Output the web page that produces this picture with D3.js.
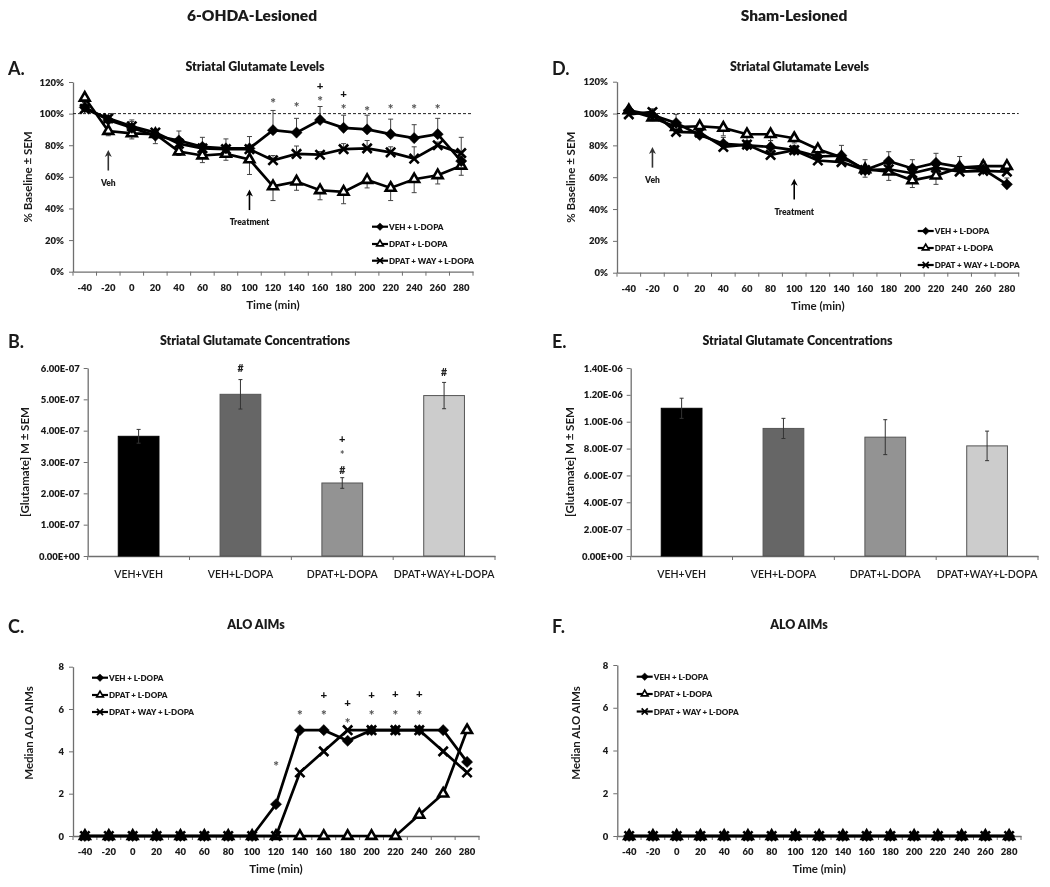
<!DOCTYPE html>
<html>
<head>
<meta charset="utf-8">
<script src="https://d3js.org/d3.v7.min.js"></script>
<style>
	html, body {margin:0; padding:0; background:#fff;}
	svg {filter:blur(0.35px);}
	text {font-family:Lato, "Open Sans", sans-serif; fill:#1a1a1a;}
</style>
</head>
<body>
<svg id="fig" width="1050" height="887"></svg>
<script>
// x categories shared by the time course panels
var times = [-40,-20,0,20,40,60,80,100,120,140,160,180,200,220,240,260,280];
var seriesNames = ['VEH + L-DOPA','DPAT + L-DOPA','DPAT + WAY + L-DOPA'];
var barNames = ['VEH+VEH','VEH+L-DOPA','DPAT+L-DOPA','DPAT+WAY+L-DOPA'];
var barColors = ['#000000','#666666','#939393','#cccccc'];

// A. glutamate levels, 6-OHDA
var aVeh = [104,96,91,86,83,79,78,78,89.5,88,96,91,90,87,84.5,87,70];
var aDpat = [110,89,87.5,87,76,73.5,74.5,71,54,57,51.5,50.5,58,53,58.5,61,67];
var aWay = [103,97,92,88,81,78,77.5,77.5,70.5,74.5,74,77.5,78,75.5,71.5,80,75];
var aVehErr = [3,2,5,3,6,6,6,7.5,12.5,9,8.5,8,9,9.5,8.5,10,3];
var aDpatErr = [3,3,3.5,6,2.5,4.5,4,9.5,9,5.5,6,7.5,5,8,8.5,5.5,6];
var aWayErr = [2,2,3,2,3,3,2,2,3,5,2,3.5,5,3.5,7.5,2,10];
var aStars = [[120,109],[140,106.5],[160,110],[180,105],[200,104],[220,105],[240,105],[260,105]];
var aPlus = [[160,117.5],[180,112.5]];

// D. glutamate levels, sham
var dVeh = [102,99,94,86.5,81,80,79,77,73,73.5,64.5,70,65.5,69,66.5,65,55.5];
var dDpat = [102,97.5,91.5,92,91,87,87,84.5,77.5,72.5,65,63.5,58,61,66,67,67];
var dWay = [99.5,101,88.5,88,79,80.5,74,77,70.5,69.5,64.5,65,62.5,66,63.5,64,63.5];
var dVehErr = [2,3,5.5,2,4,3,4,3,3,6.5,6.5,6,5.5,6,6.5,5,4];
var dDpatErr = [2,2,3,3,5,4,4,3,3,3,5,5.5,4.5,5.5,3,3,3];
var dWayErr = [2,2,2,2,2,2,2,2,2,2,2,2,2,2,2,2,2];

// B. and E. concentrations (units of 1e-7 M)
var bConc = [3.82,5.16,2.33,5.12];
var bErr = [0.22,0.47,0.17,0.42];
var bTicks = ['0.00E+00','1.00E-07','2.00E-07','3.00E-07','4.00E-07','5.00E-07','6.00E-07'];
var bHash = [[1,6.0],[2,2.75],[3,5.85]];
var bStars = [[2,3.3]];
var bPlus = [[2,3.73]];
var eConc = [11.0,9.5,8.85,8.2];
var eErr = [0.75,0.75,1.3,1.1];
var eTicks = ['0.00E+00','2.00E-07','4.00E-07','6.00E-07','8.00E-07','1.00E-06','1.20E-06','1.40E-06'];

// C. and F. AIMs
var cVeh = [0,0,0,0,0,0,0,0,1.5,5,5,4.5,5,5,5,5,3.5];
var cDpat = [0,0,0,0,0,0,0,0,0,0,0,0,0,0,1,2,5];
var cWay = [0,0,0,0,0,0,0,0,0,3,4,5,5,5,5,4,3];
var cStars = [[120,3.46],[140,5.87],[160,5.87],[180,5.5],[200,5.87],[220,5.9],[240,5.87]];
var cPlus = [[160,6.65],[180,6.27],[200,6.67],[220,6.72],[240,6.7]];
var fVeh = [0,0,0,0,0,0,0,0,0,0,0,0,0,0,0,0,0];
var fDpat = [0,0,0,0,0,0,0,0,0,0,0,0,0,0,0,0,0];
var fWay = [0,0,0,0,0,0,0,0,0,0,0,0,0,0,0,0,0];

var svg = d3.select('#fig');
var axisColor = '#6f6f6f';

function label(x, y, str, size, weight, anchor){
	return svg.append('text')
		.attr('x', x)
		.attr('y', y)
		.attr('text-anchor', anchor || 'middle')
		.attr('font-size', size)
		.attr('font-weight', weight || 700)
		.text(str);
}

function yLabel(x, y, str){
	svg.append('text')
		.attr('transform', 'translate('+x+','+y+') rotate(-90)')
		.attr('text-anchor', 'middle')
		.attr('font-size', 11.5)
		.attr('font-weight', 700)
		.text(str);
}

function styleAxis(g){
	g.selectAll('.domain').attr('stroke', axisColor).attr('stroke-width', 1.3);
	g.selectAll('.tick line').attr('stroke', axisColor).attr('stroke-width', 1);
	g.selectAll('text').attr('font-size', 9.5).attr('font-weight', 800).attr('font-family', 'Lato');
}

// marker for a series: 0 diamond, 1 open triangle, 2 cross
function marker(g, idx, x, y, small){
	var k = small ? 0.45 : 1;
	var type = [d3.symbolDiamond2, d3.symbolTriangle, d3.symbolTimes][idx];
	var size = [80, 42, 58][idx]*k;
	g.append('path')
		.attr('d', d3.symbol().type(type).size(size)())
		.attr('transform', 'translate('+x+','+y+')')
		.attr('fill', idx==1 ? '#fff' : '#000')
		.attr('stroke', '#000')
		.attr('stroke-width', idx==0 ? 0.5 : (small ? 1.7 : 2.6));
}

function legend(x0, ys, textX){
	seriesNames.forEach(function(n, i){
		var g = svg.append('g');
		g.append('line')
			.attr('x1', x0).attr('x2', x0+16)
			.attr('y1', ys[i]).attr('y2', ys[i])
			.attr('stroke', '#000').attr('stroke-width', 2.2);
		marker(g, i, x0+8, ys[i], true);
		label(textX, ys[i]+3, n, 8, 800, 'start');
	});
}

function drawMarks(list, xf, yf, glyph, color, size){
	list.forEach(function(m){
		svg.append('text')
			.attr('x', xf(m[0]))
			.attr('y', yf(m[1]))
			.attr('dy', glyph=='*' ? '0.62em' : '0.35em')
			.attr('text-anchor', 'middle')
			.attr('font-size', size)
			.attr('font-weight', 900)
			.style('fill', color)
			.text(glyph);
	});
}

function arrow(x, y1, y2, color){
	svg.append('line')
		.attr('x1', x).attr('x2', x)
		.attr('y1', y1).attr('y2', y2+3)
		.attr('stroke', color).attr('stroke-width', 1.6);
	svg.append('path')
		.attr('d', d3.line()([[x-3.5,y2+7],[x,y2],[x+3.5,y2+7],[x,y2+5]]))
		.attr('fill', color);
}

function linePanel(p){
	var x = d3.scaleBand().domain(times).range([p.left, p.right]);
	var y = d3.scaleLinear().domain([0, p.max]).range([p.bottom, p.top]);
	var cx = function(t){ return x(t)+x.bandwidth()/2; };

	var gy = svg.append('g')
		.attr('transform', 'translate('+p.left+',0)')
		.call(d3.axisLeft(y).tickValues(p.ticks).tickFormat(p.fmt).tickSize(4).tickSizeOuter(0).tickPadding(5));
	styleAxis(gy);

	var gx = svg.append('g')
		.attr('transform', 'translate(0,'+p.bottom+')')
		.call(d3.axisBottom(x).tickSize(0).tickPadding(12.5));
	styleAxis(gx);
	// excel puts the ticks between the categories
	times.concat(['end']).forEach(function(t){
		var tx = t=='end' ? p.right : x(t);
		gx.append('line').attr('x1', tx).attr('x2', tx).attr('y1', 0).attr('y2', 4)
			.attr('stroke', axisColor).attr('stroke-width', 1);
	});

	if (p.dashed){
		svg.append('line')
			.attr('x1', p.left).attr('x2', p.right)
			.attr('y1', y(100)).attr('y2', y(100))
			.attr('stroke', '#222').attr('stroke-width', 1).attr('stroke-dasharray', '3,2');
	}

	// error bars first so the lines sit on top
	if (p.errs){
		p.errs.forEach(function(e, s){
			times.forEach(function(t, i){
				var v = p.series[s][i];
				var end = v + e[i]*p.errDir[s];
				svg.append('line')
					.attr('x1', cx(t)).attr('x2', cx(t))
					.attr('y1', y(v)).attr('y2', y(end))
					.attr('stroke', '#444').attr('stroke-width', 1);
				svg.append('line')
					.attr('x1', cx(t)-2.5).attr('x2', cx(t)+2.5)
					.attr('y1', y(end)).attr('y2', y(end))
					.attr('stroke', '#444').attr('stroke-width', 1);
			});
		});
	}

	// triangles go under the other two, at zero they all pile up black
	[1,0,2].forEach(function(s){
		var vals = p.series[s];
		var g = svg.append('g');
		g.append('path')
			.attr('d', d3.line().x(function(d,i){ return cx(times[i]); }).y(function(d){ return y(d); })(vals))
			.attr('fill', 'none')
			.attr('stroke', '#000')
			.attr('stroke-width', 2.7);
		vals.forEach(function(v, i){
			marker(g, s, cx(times[i]), y(v));
		});
	});

	label((p.left+p.right)/2, p.bottom+37, 'Time (min)', 11.5, 700);
	label(p.titleX, p.titleY, p.title, 12.4, 800);
	yLabel(p.ylabX, p.ylabY || (p.top+p.bottom)/2, p.ylab);
	label(p.letterX, p.titleY+4, p.letter, 18, 700, 'start');
	legend(p.legX, p.legY, p.legX+17);

	if (p.stars) drawMarks(p.stars, cx, y, '*', '#555', 13.5);
	if (p.plus) drawMarks(p.plus, cx, y, '+', '#111', 11.5);

	if (p.veh){
		arrow(cx(-20), y(p.veh[0]), y(p.veh[1]), '#333');
		label(cx(-20), y(p.veh[1])+36, 'Veh', 8.5, 800);
		arrow(cx(100), y(p.treat[0]), y(p.treat[1]), '#000');
		label(cx(100), y(p.treat[1])+36, 'Treatment', 8.5, 800);
	}
}

function barPanel(p){
	var x = d3.scaleBand().domain(barNames).range([p.left, p.right]).paddingInner(0.6).paddingOuter(0.3);
	var y = d3.scaleLinear().domain([0, p.max]).range([p.bottom, p.top]);
	var cx = function(i){ return x(barNames[i])+x.bandwidth()/2; };
	var step = (p.right-p.left)/barNames.length;

	var gy = svg.append('g')
		.attr('transform', 'translate('+p.left+',0)')
		.call(d3.axisLeft(y).tickValues(d3.range(p.labels.length).map(function(i){ return i*p.max/(p.labels.length-1); }))
			.tickFormat(function(d,i){ return p.labels[i]; }).tickSize(4).tickSizeOuter(0).tickPadding(4));
	styleAxis(gy);

	var gx = svg.append('g')
		.attr('transform', 'translate(0,'+p.bottom+')')
		.call(d3.axisBottom(x).tickSize(0).tickPadding(15));
	styleAxis(gx);
	gx.selectAll('text').attr('font-size', 10.5).attr('font-weight', 600);
	d3.range(barNames.length+1).forEach(function(i){
		var tx = p.left+i*step;
		gx.append('line').attr('x1', tx).attr('x2', tx).attr('y1', 0).attr('y2', 4)
			.attr('stroke', axisColor).attr('stroke-width', 1);
	});

	barNames.forEach(function(n, i){
		svg.append('rect')
			.attr('x', x(n))
			.attr('y', y(p.values[i]))
			.attr('width', x.bandwidth())
			.attr('height', y(0)-y(p.values[i]))
			.attr('fill', barColors[i])
			.attr('stroke', i==0 ? '#000' : '#555')
			.attr('stroke-width', 1);
		[[p.values[i]-p.errs[i], p.values[i]+p.errs[i]]].forEach(function(r){
			svg.append('line')
				.attr('x1', cx(i)).attr('x2', cx(i))
				.attr('y1', y(r[0])).attr('y2', y(r[1]))
				.attr('stroke', '#333').attr('stroke-width', 1);
			r.forEach(function(v){
				svg.append('line')
					.attr('x1', cx(i)-2).attr('x2', cx(i)+2)
					.attr('y1', y(v)).attr('y2', y(v))
					.attr('stroke', '#333').attr('stroke-width', 1);
			});
		});
	});

	label(p.titleX, p.titleY, p.title, 12.4, 800);
	yLabel(p.ylabX, (p.top+p.bottom)/2, '[Glutamate] M \u00b1 SEM');
	label(p.letterX, p.titleY+3, p.letter, 18, 700, 'start');

	if (p.hash) drawMarks(p.hash, cx, y, '#', '#222', 10.5);
	if (p.stars) drawMarks(p.stars, cx, y, '*', '#555', 10.5);
	if (p.plus) drawMarks(p.plus, cx, y, '+', '#111', 11);
}

label(252, 21, '6-OHDA-Lesioned', 15.5, 800);
label(794, 21, 'Sham-Lesioned', 15.5, 800);

var pctTicks = [0,20,40,60,80,100,120];
var pct = function(d){ return d+'%'; };
var aimTicks = [0,2,4,6,8];

linePanel({
	letter:'A.', letterX:8, title:'Striatal Glutamate Levels', titleX:255, titleY:71,
	left:73, right:473, top:82, bottom:271.7, max:120, ticks:pctTicks, fmt:pct,
	ylab:'% Baseline \u00b1 SEM', ylabX:32, dashed:true,
	series:[aVeh,aDpat,aWay], errs:[aVehErr,aDpatErr,aWayErr], errDir:[1,-1,1],
	stars:aStars, plus:aPlus, veh:[64,77], treat:[39,52],
	legX:372, legY:[226.7,244,260.7]
});
linePanel({
	letter:'D.', letterX:552, title:'Striatal Glutamate Levels', titleX:799.5, titleY:71,
	left:617, right:1018.7, top:81.7, bottom:272.7, max:120, ticks:pctTicks, fmt:pct,
	ylab:'% Baseline \u00b1 SEM', ylabX:575, dashed:true,
	series:[dVeh,dDpat,dWay], errs:[dVehErr,dDpatErr,dWayErr], errDir:[1,-1,1],
	veh:[66,79], treat:[46,59],
	legX:917.7, legY:[231,248,265]
});
barPanel({
	letter:'B.', letterX:8, title:'Striatal Glutamate Concentrations', titleX:255, titleY:345,
	left:87.7, right:495, top:368, bottom:556, max:6, labels:bTicks, ylabX:29,
	values:bConc, errs:bErr, hash:bHash, stars:bStars, plus:bPlus
});
barPanel({
	letter:'E.', letterX:552, title:'Striatal Glutamate Concentrations', titleX:797.5, titleY:345,
	left:630.7, right:1038, top:368, bottom:556, max:14, labels:eTicks, ylabX:574,
	values:eConc, errs:eErr
});
linePanel({
	letter:'C.', letterX:8, title:'ALO AIMs', titleX:256, titleY:629,
	left:73, right:479, top:666.7, bottom:836, max:8, ticks:aimTicks, fmt:String,
	ylab:'Median ALO AIMs', ylabX:33, ylabY:733,
	series:[cVeh,cDpat,cWay], stars:cStars, plus:cPlus,
	legX:92, legY:[677.7,695,712]
});
linePanel({
	letter:'F.', letterX:552, title:'ALO AIMs', titleX:799, titleY:629,
	left:617.3, right:1021, top:665, bottom:836, max:8, ticks:aimTicks, fmt:String,
	ylab:'Median ALO AIMs', ylabX:580, ylabY:733,
	series:[fVeh,fDpat,fWay],
	legX:636.7, legY:[676.7,694,711.5]
});
</script>
</body>
</html>
